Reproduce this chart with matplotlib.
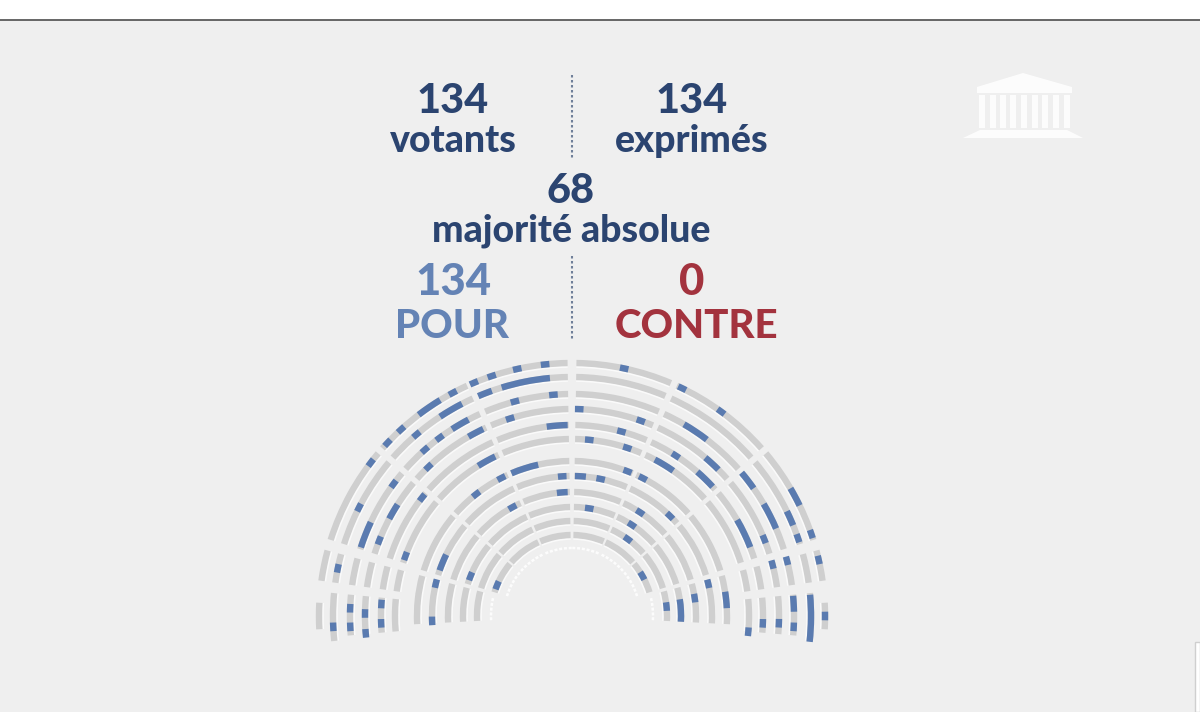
import numpy as np
import matplotlib
matplotlib.use("Agg")
import matplotlib.pyplot as plt
from matplotlib.patches import Polygon, Rectangle

W, H = 1200, 712
BG = "#efefef"
NAVY = "#2b4470"
LIGHT = "#6483b5"
RED = "#a3333e"
GRAY = "#cfcfcf"
BLUE = "#5a7bb0"

# row radii, outermost first
row_radii = [253, 239, 222, 207, 191, 177, 155, 140, 124, 109, 95, 81, 68]

# seated sectors, in degrees above the horizon, mirrored on both sides
outer_sectors = [(8, 15), (17.5, 40), (41.5, 65.5), (67, 89)]
inner_sectors = [(17, 40), (41.5, 65.5), (67, 89)]
outer_bottom = [(-3, 3), (-6, 5.5), (-5, 5.5), (-5, 5.5), (-5, 5.5), (-5, 5.5)]
inner_bottom = (-3, 15)

# single "pour" votes: (row index, angle in degrees)
pour_single = [
    (0, 96.1), (0, 102.5), (0, 108.5), (0, 112.8), (0, 118.1), (0, 132.5), (0, 136.8), (0, 142.7),
    (0, 78.1), (0, 64.2), (0, 53.9), (0, 18.9), (0, 12.8), (0, 0.0),
    (1, 130.6), (1, 153.0), (1, 168.5), (1, 182.6), (1, 19.0),
    (2, 94.8), (2, 104.9), (2, 126.6), (2, 131.5), (2, 143.5), (2, 178.0), (2, 182.8),
    (2, 14.4), (2, -2.8),
    (3, 88.0), (3, 107.4), (3, 133.9), (3, 158.6), (3, 179.3), (3, 184.8),
    (3, 70.6), (3, 21.8), (3, 14.4), (3, -2.0),
    (4, 141.7), (4, 176.4), (4, 182.2), (4, 75.0), (4, 57.1), (4, -2.2),
    (5, 160.2), (5, 84.4), (5, 71.8), (5, -5.1),
    (6, 117.1), (6, 128.2), (6, 69.0), (6, 62.8),
    (7, 94.0), (7, 166.6), (7, 182.0), (7, 78.2), (7, 45.6), (7, 13.3),
    (8, 118.7), (8, 56.7), (8, 8.3),
    (9, 158.6), (9, 80.9), (9, 56.7),
    (10, 54.0), (10, 5.7),
    (11, 157.7), (11, 29.7),
]

# runs of adjacent "pour" votes: (row index, first angle, last angle)
pour_runs = [
    (0, 121.4, 127.3), (0, 25.9, 30.3),
    (1, 95.3, 107.1), (1, 109.6, 113.1), (1, 117.4, 123.5), (1, 22.3, 26.0), (1, -6.2, 5.1),
    (2, 117.8, 122.7), (2, 155.0, 162.0), (2, 35.1, 40.2), (2, 52.6, 59.7), (2, 23.2, 30.3), (2, 1.1, 5.2),
    (3, 115.4, 120.0), (3, 147.4, 152.0), (3, 45.0, 49.9),
    (4, 91.3, 97.6), (4, 42.6, 49.0), (4, 21.1, 30.2),
    (5, 115.7, 122.0), (5, 55.1, 62.1),
    (6, 102.6, 113.0), (6, 2.9, 9.0),
    (7, 154.0, 161.0), (7, 84.3, 88.8),
    (8, 92.0, 97.0),
    (9, -3.0, 8.8),
]

# headline figures
votants, exprimes, majorite, pour, contre = 134, 134, 68, 134, 0

fig = plt.figure(figsize=(W / 100, H / 100), dpi=100, facecolor=BG)
bg = fig.add_axes([0, 0, 1, 1])
bg.set_xlim(0, W)
bg.set_ylim(H, 0)
bg.axis("off")

# top band and corner artefact of the screenshot
bg.add_patch(Rectangle((0, 0), W, 20, fc="white", ec="none"))
bg.plot([0, W], [20, 20], color="#5a5a5a", lw=1.3)
bg.add_patch(Rectangle((1195, 642), 5, 70, fc="white", ec="#cfcfcf", lw=1))

# dotted separators
for y0, y1 in [(75, 160), (256, 341)]:
    bg.plot([572, 572], [y0, y1], color="#6f7f99", lw=1.5, ls=(0, (1.2, 1.2)))

FONT = "Lato"


def label(x, y, s, color, size):
    bg.text(x, y, s, color=color, fontsize=size, fontfamily=FONT, fontweight="black",
            ha="center", va="center")


label(453, 101, str(votants), NAVY, 29.8)
label(453, 141, "votants", NAVY, 27)
label(692, 101, str(exprimes), NAVY, 29.8)
label(692, 141, "exprimés", NAVY, 27)
label(571, 191, str(majorite), NAVY, 29.8)
label(571, 231, "majorité absolue", NAVY, 27)
label(453, 282, str(pour), LIGHT, 31.5)
label(452, 326, "POUR", LIGHT, 29)
label(692, 282, str(contre), RED, 31.5)
label(696, 326, "CONTRE", RED, 29)

# assembly icon
icon = dict(fc="white", ec="none", alpha=0.85)
bg.add_patch(Polygon([(977, 87), (1023, 73), (1072, 87), (1072, 93), (977, 93)], **icon))
for cx in [982, 993, 1003, 1013, 1024, 1035, 1045, 1056, 1067]:
    bg.add_patch(Rectangle((cx - 2.8, 95), 5.6, 33, **icon))
bg.add_patch(Polygon([(980, 130), (1067, 130), (1083, 138), (963, 138)], **icon))

# hemicycle on a polar axes centred on the semicircle's centre
CX, CY, RMAX = 572, 616, 270
pol = fig.add_axes([(CX - RMAX) / W, (H - CY - RMAX) / H, 2 * RMAX / W, 2 * RMAX / H],
                   projection="polar")
pol.set_ylim(0, RMAX)
pol.axis("off")
pol.patch.set_alpha(0)
THICK = 6.4


def arc(row, a0, a1, color, z, thick=THICK, shift=0.0, alpha=1.0):
    r = row_radii[row] + shift
    pol.bar(np.radians(a0), thick, width=np.radians(a1 - a0), bottom=r - thick / 2,
            align="edge", color=color, lw=0, zorder=z, alpha=alpha)


def both_sides(row, a0, a1, color, z, **kw):
    arc(row, a0, a1, color, z, **kw)
    arc(row, 180 - a1, 180 - a0, color, z, **kw)


def seated(row, a0, a1):
    both_sides(row, a0, a1, "white", 1, thick=2, shift=-3.8, alpha=0.7)
    both_sides(row, a0, a1, GRAY, 2)


for row in range(6):
    seated(row, *outer_bottom[row])
    for a0, a1 in outer_sectors:
        seated(row, a0, a1)
for row in range(6, 12):
    if row < 11:
        seated(row, *inner_bottom)
    for a0, a1 in inner_sectors:
        seated(row, a0, a1)


def white_dots(row, a0, a1):
    step = 540 / row_radii[row] / 3.14
    for a in np.arange(a0, a1 - step / 2, step * 1.6):
        both_sides(row, a, a + step, "white", 2, thick=2.5, alpha=0.85)


white_dots(11, *inner_bottom)
for a0, a1 in inner_sectors:
    white_dots(12, a0, a1)

for row, angle in pour_single:
    half = np.degrees(4.3 / row_radii[row])
    arc(row, angle - half, angle + half, BLUE, 3)
for row, a0, a1 in pour_runs:
    arc(row, a0, a1, BLUE, 3)

fig.savefig("out.png", dpi=100, facecolor=BG)
